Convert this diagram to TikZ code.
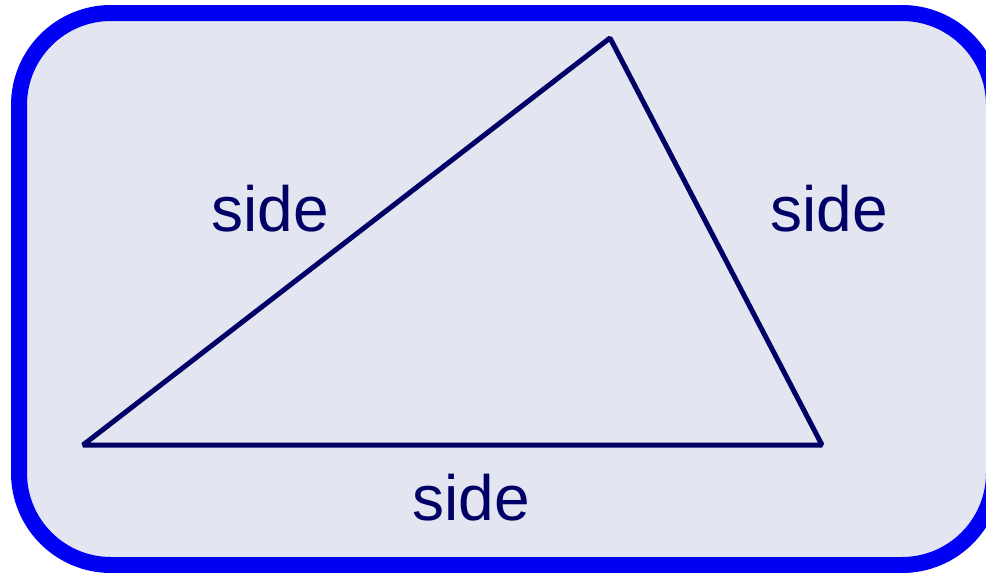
\documentclass[tikz,border=0pt]{standalone}
\usepackage{fontspec}
\setmainfont{Liberation Sans}
\usepackage{tikz}
\usetikzlibrary{positioning}

\definecolor{frameblue}{HTML}{0000F5}
\definecolor{panelfill}{HTML}{E3E6F0}
\definecolor{navy}{HTML}{000066}

\begin{document}
\begin{tikzpicture}[
  x=1pt,y=-1pt,
  panel/.style={draw=frameblue, fill=panelfill, line width=16pt, rounded corners=92pt},
  edge/.style={draw=navy, line width=5pt, line join=bevel},
  lbl/.style={text=navy, font=\fontsize{64}{72}\selectfont, inner sep=0pt}
]
\useasboundingbox (0,0) rectangle (986,573);
\begin{scope}
\clip (0,0) rectangle (986,573);
\draw[panel] (19,13) rectangle (994,565);
\end{scope}

\coordinate (left) at (83,445);
\coordinate (top) at (610,38);
\coordinate (right) at (822,445);
\draw[edge] (left) -- (top) -- (right) -- cycle;

\node[lbl] (sideleft) at (270,209) {side};
\node[lbl] (sideright) at (829,209) {side};
\node[lbl] (sidebottom) at (471,498) {side};
\end{tikzpicture}
\end{document}
